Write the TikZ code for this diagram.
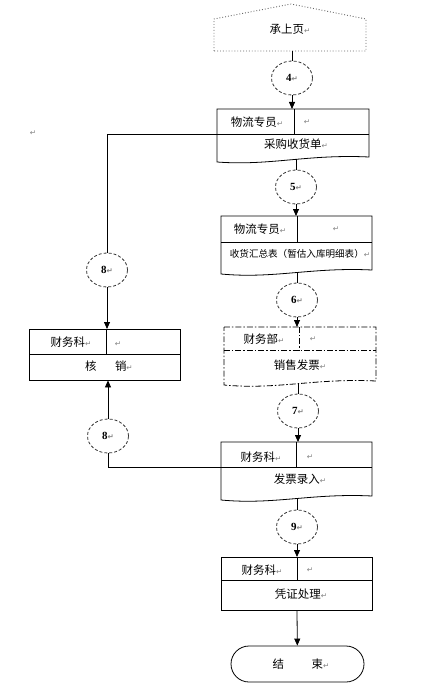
\documentclass[tikz,border=0pt]{standalone}
\usepackage{fontspec}
\setmainfont{Noto Sans CJK SC}
\newfontfamily\numfont{Liberation Serif}
\newfontfamily\dvfont{DejaVu Sans}
\usetikzlibrary{arrows.meta,shapes.geometric}
\newcommand\rmk{{\dvfont\fontsize{7.5}{7.5}\selectfont\color{black!50}↵}}
\tikzset{
 frame/.style={draw=black, line width=0.8pt},
 dframe/.style={draw=black, line width=0.8pt, dash pattern=on 6pt off 2pt on 1.5pt off 2pt},
 cnum/.style={ellipse, draw=black!80, line width=0.8pt, dash pattern=on 3pt off 2pt, minimum width=41bp, minimum height=34bp, inner sep=0pt, font=\numfont\bfseries\fontsize{11}{11}\selectfont},
 lbl/.style={font=\fontsize{11.5}{12}\selectfont, inner sep=0pt},
 slbl/.style={font=\fontsize{9.6}{10}\selectfont, inner sep=0pt},
 link/.style={draw=black, line width=0.8pt},
 arr/.style={link, -{Triangle[length=7bp,width=6bp]}},
 area/.style={rectangle, inner sep=0pt, draw=none, anchor=north west}
}
\begin{document}
\begin{tikzpicture}[x=1bp,y=-1bp]
\useasboundingbox (0,0) rectangle (432,696);
% top off-page connector
\node[area, minimum width=152bp, minimum height=47bp] (pent) at (214,4) {};
\draw[black!60, line width=0.9pt, dotted] (214,51) -- (214,19) -- (291,4) -- (366,19) -- (366,51) -- cycle;
\node[lbl] (tpent) at (290,29) {承上页\rmk};
% circles
\node[cnum] (c4) at (292,78) {4\rmk};
\node[cnum] (c5) at (296,187) {5\rmk};
\node[cnum] (c6) at (297,300) {6\rmk};
\node[cnum] (c7) at (298,411) {7\rmk};
\node[cnum] (c9) at (297,527) {9\rmk};
\node[cnum] (c8a) at (107,270) {8\rmk};
\node[cnum] (c8b) at (108,436) {8\rmk};
% box 1
\node[area, minimum width=152bp, minimum height=50bp] (b1) at (217,109) {};
\draw[frame] (217,109) -- (369,109) -- (369,157) .. controls (308,154) and (270,166) .. (217,162) -- cycle;
\draw[frame] (217,134) -- (369,134) (294,109) -- (294,134);
\coordinate (b1d) at (217,134);
\node[lbl] (t1a) at (257,122) {物流专员\rmk};
\node[lbl] (t1b) at (307,122) {\rmk};
\node[lbl] (t1c) at (296,144) {采购收货单\rmk};
% box 2
\node[area, minimum width=151bp, minimum height=56bp] (b2) at (221,216) {};
\draw[frame] (221,216) -- (372,216) -- (372,270) .. controls (312,267) and (274,279) .. (221,274) -- cycle;
\draw[frame] (221,242) -- (372,242) (297,216) -- (297,242);
\node[lbl] (t2a) at (260,229) {物流专员\rmk};
\node[lbl] (t2b) at (336,229) {\rmk};
\node[slbl] (t2c) at (300,254) {收货汇总表（暂估入库明细表）\rmk};
% box 3 (dash-dot)
\node[area, minimum width=152bp, minimum height=56bp] (b3) at (224,327) {};
\draw[dframe] (224,327) -- (376,327) -- (376,381) .. controls (315,378) and (277,390) .. (224,385) -- cycle;
\draw[dframe] (224,350) -- (376,350) (299,327) -- (299,350);
\node[lbl] (t3a) at (264,339) {财务部\rmk};
\node[lbl] (t3b) at (313,339) {\rmk};
\node[lbl] (t3c) at (300,365) {销售发票\rmk};
% box 4
\node[area, minimum width=151bp, minimum height=56bp] (b4) at (221,442) {};
\draw[frame] (221,442) -- (372,442) -- (372,496) .. controls (312,493) and (274,505) .. (221,500) -- cycle;
\draw[frame] (221,467) -- (372,467) (296,442) -- (296,467);
\coordinate (b4d) at (221,467);
\node[lbl] (t4a) at (261,457) {财务科\rmk};
\node[lbl] (t4b) at (310,457) {\rmk};
\node[lbl] (t4c) at (300,479) {发票录入\rmk};
% box 5
\node[area, minimum width=151bp, minimum height=53bp] (b5) at (221,557) {};
\draw[frame] (221,557) rectangle (372,610);
\draw[frame] (221,580) -- (372,580) (297,557) -- (297,580);
\node[lbl] (t5a) at (262,570) {财务科\rmk};
\node[lbl] (t5b) at (310,570) {\rmk};
\node[lbl] (t5c) at (301,594) {凭证处理\rmk};
% box hx
\node[area, minimum width=151bp, minimum height=51bp] (hx) at (29,329) {};
\draw[frame] (29,329) rectangle (180,380);
\draw[frame] (29,354) -- (180,354) (106,329) -- (106,354);
\node[lbl] (thxa) at (71,342) {财务科\rmk};
\node[lbl] (thxb) at (118,344) {\rmk};
\node[lbl] (thxc) at (109,366) {核\hspace{1.6em}销\rmk};
% end terminator
\node[draw=black, line width=0.8pt, rounded corners=18bp, minimum width=133bp, minimum height=36bp, inner sep=0pt] (endn) at (297.5,664) {};
\node[lbl] (tend) at (301,664) {结\hspace{2.4em}束\rmk};
% stray paragraph mark
\node[lbl] (stray) at (33,133) {\rmk};
% connectors
\draw[link] (c4 |- pent.south) -- (c4);
\draw[arr] (c4) -- (c4 |- b1.north);
\draw[link] (c5 |- b1.south) -- (c5);
\draw[arr] (c5) -- (c5 |- b2.north);
\draw[link] (c6 |- b2.south) -- (c6);
\draw[arr] (c6) -- (c6 |- b3.north);
\draw[link] (c7 |- b3.south) -- (c7);
\draw[arr] (c7) -- (c7 |- b4.north);
\draw[link] (c9 |- b4.south) -- (c9);
\draw[arr] (c9) -- (c9 |- b5.north);
\draw[arr] (c9 |- b5.south) -- (endn);
\draw[link] (b1d) -| (c8a);
\draw[arr] (c8a) -- (c8a |- hx.north);
\draw[link] (b4d) -| (c8b);
\draw[arr] (c8b) -- (c8b |- hx.south);
\end{tikzpicture}
\end{document}
